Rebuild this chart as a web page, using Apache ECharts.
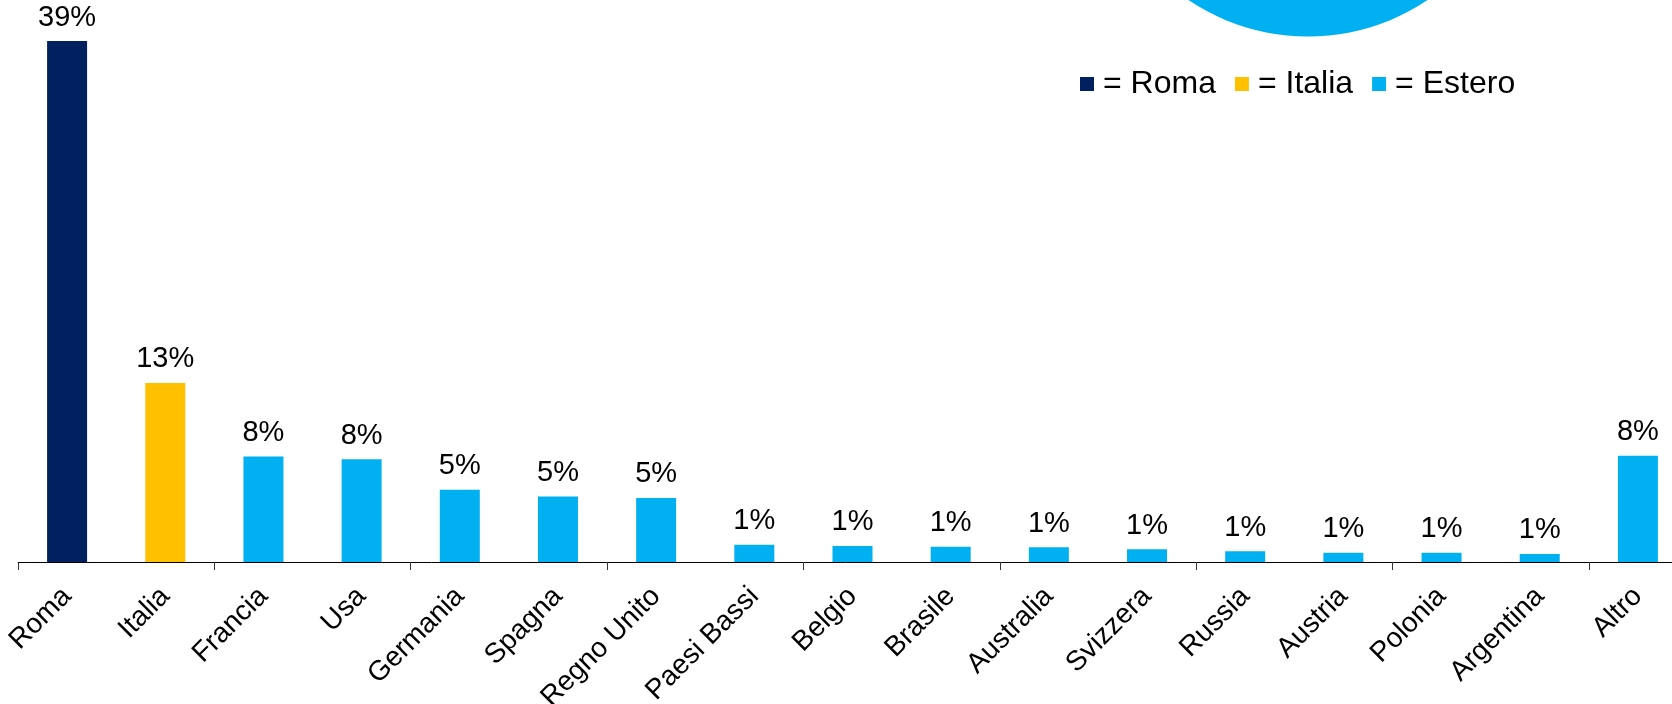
<!DOCTYPE html>
<html>
<head>
<meta charset="utf-8">
<title>Provenienza</title>
<script src="https://cdn.jsdelivr.net/npm/echarts@6/dist/echarts.min.js"></script>
<style>
  html, body { margin: 0; padding: 0; background: #fff; }
  #chart { width: 1672px; height: 704px; }
</style>
</head>
<body>
<div id="chart"></div>
<script>
// categories and shares (%)
const categories = ['Roma', 'Italia', 'Francia', 'Usa', 'Germania', 'Spagna', 'Regno Unito', 'Paesi Bassi',
  'Belgio', 'Brasile', 'Australia', 'Svizzera', 'Russia', 'Austria', 'Polonia', 'Argentina', 'Altro']
const values = [39, 13.4, 7.9, 7.7, 5.4, 4.9, 4.8, 1.3, 1.2, 1.15, 1.1, 0.95, 0.8, 0.7, 0.7, 0.6, 7.95]
// which legend group each category belongs to
const groupOf = ['Roma', 'Italia', 'Estero', 'Estero', 'Estero', 'Estero', 'Estero', 'Estero',
  'Estero', 'Estero', 'Estero', 'Estero', 'Estero', 'Estero', 'Estero', 'Estero', 'Estero']
const groups = ['Roma', 'Italia', 'Estero']

const colors = { Roma: '#002060', Italia: '#FFC000', Estero: '#00B0F0' }
const font = "'Liberation Sans', Arial, sans-serif"

const chart = echarts.init(document.getElementById('chart'))

const series = groups.map(g => ({
  name: g,
  type: 'bar',
  barWidth: 40,
  barGap: '-100%',
  itemStyle: { color: colors[g] },
  label: {
    show: true,
    position: 'top',
    distance: 9,
    fontSize: 29,
    fontFamily: font,
    color: '#000',
    formatter: p => Math.round(p.value) + '%'
  },
  data: values.map((v, i) => (groupOf[i] === g ? v : '-'))
}))

chart.setOption({
  animation: false,
  backgroundColor: '#fff',
  grid: {
    left: 18,
    right: -15,
    top: 41,
    bottom: 142,
    outerBoundsMode: 'none'
  },
  legend: {
    data: groups,
    left: 1075,
    top: 63,
    icon: 'rect',
    itemWidth: 14,
    itemHeight: 14,
    itemGap: 19,
    formatter: '= {name}',
    textStyle: {
      fontSize: 32,
      fontFamily: font,
      color: '#000',
      padding: [0, 0, 0, 4]
    }
  },
  graphic: [{
    // cyan disc cut off at the top edge
    type: 'circle',
    z: -1,
    shape: { cx: 1308, cy: -178, r: 214.5 },
    style: { fill: '#00B0F0' }
  }],
  xAxis: {
    type: 'category',
    data: categories,
    axisLine: { show: true, lineStyle: { color: '#000', width: 1 } },
    axisTick: { show: true, interval: 1, length: 8, lineStyle: { color: '#333' } },
    axisLabel: {
      interval: 0,
      rotate: 45,
      margin: 30,
      fontSize: 28,
      fontFamily: font,
      color: '#000'
    }
  },
  yAxis: {
    type: 'value',
    show: false,
    min: 0,
    max: Math.max(...values),
    splitLine: { show: false }
  },
  series: series
})
</script>
</body>
</html>
